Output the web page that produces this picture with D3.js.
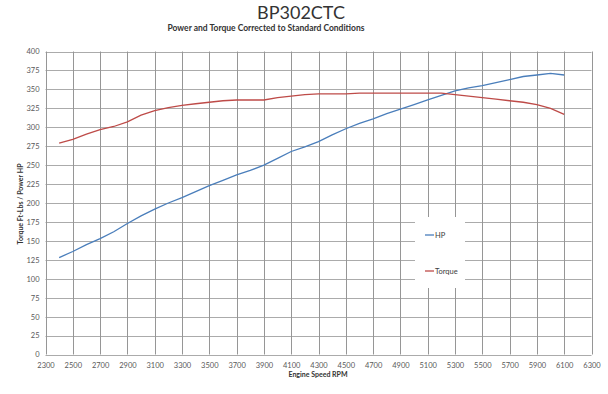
<!DOCTYPE html>
<html>
<head>
<meta charset="utf-8">
<script src="https://d3js.org/d3.v7.min.js"></script>
<style>
  body { margin: 0; background: #fff; }
  text { font-family: Lato, "Liberation Sans", sans-serif; }
</style>
</head>
<body>
<svg width="608" height="394"></svg>
<script>
var rpm = [2400, 2500, 2600, 2700, 2800, 2900, 3000, 3100, 3200, 3300,
           3400, 3500, 3600, 3700, 3800, 3900, 4000, 4100, 4200, 4300,
           4400, 4500, 4600, 4700, 4800, 4900, 5000, 5100, 5200, 5300,
           5400, 5500, 5600, 5700, 5800, 5900, 6000, 6100];
var hp = [128, 136, 145, 153, 162, 173, 183, 192, 200, 207,
          215, 223, 230, 237, 243, 250, 259, 268, 274, 281,
          290, 298, 305, 311, 318, 324, 330, 336, 342, 348,
          352, 355, 359, 363, 367, 369, 371, 369];
var torque = [279, 284, 291, 297, 301, 307, 316, 322, 326, 329,
              331, 333, 335, 336, 336, 336, 339, 341, 343, 344,
              344, 344, 345, 345, 345, 345, 345, 345, 345, 343,
              341, 339, 337, 335, 333, 330, 325, 317];
var xTicks = d3.range(2300, 6301, 200);
var yTicks = d3.range(0, 401, 25);

var svg = d3.select("svg");
var plotL = 45.5, plotR = 591.5, plotT = 51.5, plotB = 354.5;

var x = d3.scaleLinear().domain([2300, 6300]).range([plotL, plotR]);
var y = d3.scaleLinear().domain([0, 400]).range([plotB, plotT]);

// grid
var grid = svg.append("g").attr("stroke-width", 1);
grid.selectAll(".h").data(yTicks).enter().append("line")
    .attr("stroke", "#ababab")
    .attr("x1", plotL).attr("x2", plotR)
    .attr("y1", function(d) { return Math.round(y(d)) + 0.5; })
    .attr("y2", function(d) { return Math.round(y(d)) + 0.5; });
grid.selectAll(".v").data(xTicks).enter().append("line")
    .attr("stroke", "#969696")
    .attr("y1", plotT).attr("y2", plotB)
    .attr("x1", function(d) { return Math.round(x(d)) + 0.5; })
    .attr("x2", function(d) { return Math.round(x(d)) + 0.5; });

// axes labels
var xAxis = svg.append("g")
    .attr("transform", "translate(0," + (plotB + 8) + ")")
    .call(d3.axisBottom(x).tickValues(xTicks).tickFormat(d3.format("d")).tickSize(0).tickPadding(0));
xAxis.select(".domain").remove();
xAxis.selectAll("text").attr("font-size", "7.5px").attr("fill", "#595959")
    .attr("font-family", "Lato, sans-serif");

var yAxis = svg.append("g")
    .attr("transform", "translate(" + (plotL - 6) + ",0)")
    .call(d3.axisLeft(y).tickValues(yTicks).tickSize(0).tickPadding(0));
yAxis.select(".domain").remove();
yAxis.selectAll("text").attr("font-size", "7.5px").attr("fill", "#595959")
    .attr("font-family", "Lato, sans-serif");

// lines
var line = function(vals) {
  return d3.line()
    .x(function(d, i) { return x(rpm[i]); })
    .y(function(d) { return y(d); })(vals);
};
svg.append("path").attr("d", line(hp))
    .attr("fill", "none").attr("stroke", "#4a7ebb").attr("stroke-width", 1.3);
svg.append("path").attr("d", line(torque))
    .attr("fill", "none").attr("stroke", "#be4b48").attr("stroke-width", 1.3);

// legend
svg.append("rect").attr("x", 415).attr("y", 217).attr("width", 50).attr("height", 71)
    .attr("fill", "#fff");
var legend = [["HP", "#4a7ebb", 235], ["Torque", "#be4b48", 271]];
legend.forEach(function(l) {
  svg.append("line").attr("x1", 425).attr("x2", 434).attr("y1", l[2]).attr("y2", l[2])
      .attr("stroke", l[1]).attr("stroke-width", 1.3);
  svg.append("text").attr("x", 435).attr("y", l[2] + 2.5)
      .attr("font-size", "7.5px").attr("fill", "#404040").text(l[0]);
});

// titles
svg.append("text").attr("x", 301).attr("y", 19).attr("text-anchor", "middle")
    .attr("font-family", "Liberation Sans, Arial, sans-serif")
    .attr("font-size", "18px").attr("fill", "#333").text("BP302CTC");
svg.append("text").attr("x", 266).attr("y", 31).attr("text-anchor", "middle")
    .attr("font-size", "8.5px").attr("font-weight", "bold").attr("fill", "#333")
    .text("Power and Torque Corrected to Standard Conditions");
svg.append("text").attr("x", 318).attr("y", 377).attr("text-anchor", "middle")
    .attr("font-size", "7px").attr("font-weight", "bold").attr("fill", "#333")
    .text("Engine Speed RPM");
svg.append("text").attr("transform", "translate(23,204) rotate(-90)")
    .attr("text-anchor", "middle")
    .attr("font-size", "7px").attr("font-weight", "bold").attr("fill", "#333")
    .text("Torque Ft-Lbs / Power HP");
</script>
</body>
</html>
